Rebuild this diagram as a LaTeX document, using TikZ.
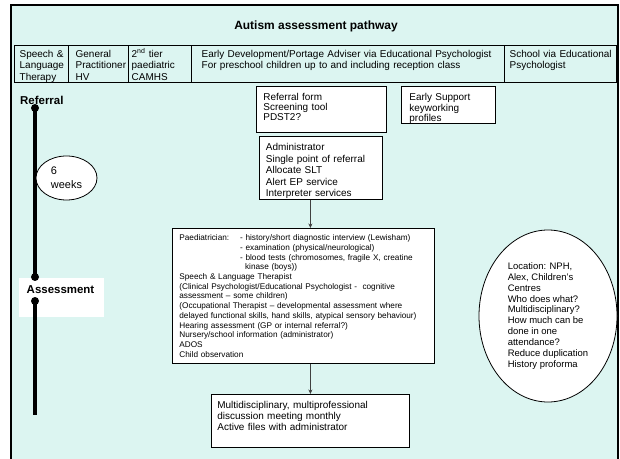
\documentclass[tikz,border=0pt]{standalone}
\usepackage{fontspec}
\setmainfont{Liberation Sans}
\usetikzlibrary{arrows.meta,shapes.geometric}
\definecolor{panelcyan}{RGB}{220,245,241}
\definecolor{linkgray}{RGB}{64,64,64}

\begin{document}
\begin{tikzpicture}[x=1bp,y=1bp,yscale=-1,xscale=1,
  boxnode/.style={draw,line width=0.8bp,fill=white,anchor=north west,align=left,inner ysep=4bp},
  headcell/.style={draw,line width=1.4bp,anchor=north west,align=left,inner ysep=3bp,text height=8.6bp,text depth=22.4bp,font=\fontsize{10}{11.5}\selectfont},
  stagelabel/.style={inner sep=0pt,font=\bfseries\fontsize{11.5}{13}\selectfont},
  tdot/.style={circle,fill=black,inner sep=0pt,minimum size=8bp},
  timeline/.style={line width=4bp},
  link/.style={draw=linkgray,line width=0.9bp,-{Stealth[length=4.5bp,width=4bp]}},
  note/.style={ellipse,draw,line width=0.8bp,fill=white,inner sep=0pt,align=left}]
\useasboundingbox (0,0) rectangle (620,459);
\clip (0,0) rectangle (620,459);

% Shape: Panel
\draw [line width=2.5bp,fill=panelcyan] (11,5) rectangle (618,475);
% Text Node
\draw (316,29.3) node (title) [anchor=base,inner sep=0pt,font=\bfseries\fontsize{12}{14}\selectfont] {Autism assessment pathway};

% Header row
\draw (14,45) node (hdslt) [headcell,inner xsep=5bp,text width=44bp] {Speech \&\\Language\\Therapy};
\draw (68,45) node (hdgp) [headcell,inner xsep=7bp,text width=46bp] {General\\Practitioner\\HV};
\draw (128,45) node (hdtier) [headcell,inner xsep=3bp,text width=57bp] {2\textsuperscript{nd} tier\\paediatric\\CAMHS};
\draw (191,45) node (hdportage) [headcell,inner xsep=10bp,text width=293bp] {Early Development/Portage Adviser via Educational Psychologist\\For preschool children up to and including reception class};
\draw (504,45) node (hdschool) [headcell,inner xsep=5bp,text width=102bp] {School via Educational\\Psychologist};

% Timeline
\draw (19,278) node (assessbg) [fill=white,anchor=north west,minimum width=85bp,minimum height=39bp,inner sep=0pt] {};
\draw (20,104.1) node (referral) [stagelabel,anchor=base west] {Referral};
\draw (35,108) node (refdot) [tdot] {};
\draw (35,277) node (assessdot) [tdot] {};
\draw (35,301) node (assessdot2) [tdot] {};
\coordinate (timeend) at (35,415);
\draw [timeline] (refdot.center) -- (assessdot.center);
\draw [timeline] (assessdot2.center) -- (timeend);
\draw (60.5,293.2) node (assesslabel) [stagelabel,anchor=base] {Assessment};
% Shape: Ellipse
\draw (66.5,178) node (sixweeks) [note,minimum width=61bp,minimum height=44bp,font=\fontsize{11}{14}\selectfont] {6\\weeks};

% Text Node
\draw (256,86) node (refform) [boxnode,inner xsep=7bp,text width=116bp,text height=10.6bp,text depth=27.4bp,font=\fontsize{10}{10}\selectfont] {Referral form\\Screening tool\\PDST2?};
% Text Node
\draw (401,86) node (earlysup) [boxnode,inner xsep=8bp,text width=78bp,text height=10.6bp,text depth=18.4bp,font=\fontsize{10}{10.5}\selectfont] {Early Support\\keyworking\\profiles};
% Text Node
\draw (259,136) node (admin) [boxnode,inner xsep=6.5bp,text width=110bp,text height=10.3bp,text depth=44.7bp,font=\fontsize{10}{11.6}\selectfont] {Administrator\\Single point of referral\\Allocate SLT\\Alert EP service\\Interpreter services};
% Text Node
\draw (172,228) node (assess) [boxnode,inner xsep=7bp,text width=248bp,text height=8.3bp,text depth=118.7bp,font=\fontsize{8.25}{9.75}\selectfont] {\makebox[60.7bp][l]{Paediatrician:}- history/short diagnostic interview (Lewisham)\\
\hspace*{60.7bp}- examination (physical/neurological)\\
\hspace*{60.7bp}- blood tests (chromosomes, fragile X, creatine\\
\hspace*{65.7bp}kinase (boys))\\
Speech \& Language Therapist\\
(Clinical Psychologist/Educational Psychologist -\ \ cognitive\\
assessment – some children)\\
(Occupational Therapist – developmental assessment where\\
delayed functional skills, hand skills, atypical sensory behaviour)\\
Hearing assessment (GP or internal referral?)\\
Nursery/school information (administrator)\\
ADOS\\
Child observation};
% Text Node
\draw (211,394) node (meeting) [boxnode,inner xsep=6bp,text width=186bp,text height=9.6bp,text depth=35.4bp,font=\fontsize{10}{11.5}\selectfont] {Multidisciplinary, multiprofessional\\discussion meeting monthly\\Active files with administrator};

% Connection
\draw [link] (admin.south -| meeting.north) -- (assess.north -| meeting.north);
% Connection
\draw [link] (assess.south -| meeting.north) -- (meeting.north);

% Shape: Ellipse
\draw (548,316) node (venue) [note,minimum width=138bp,minimum height=172bp,font=\fontsize{9.5}{11}\selectfont] {Location: NPH,\\Alex, Children's\\Centres\\Who does what?\\Multidisciplinary?\\How much can be\\done in one\\attendance?\\Reduce duplication\\History proforma};

\end{tikzpicture}
\end{document}
